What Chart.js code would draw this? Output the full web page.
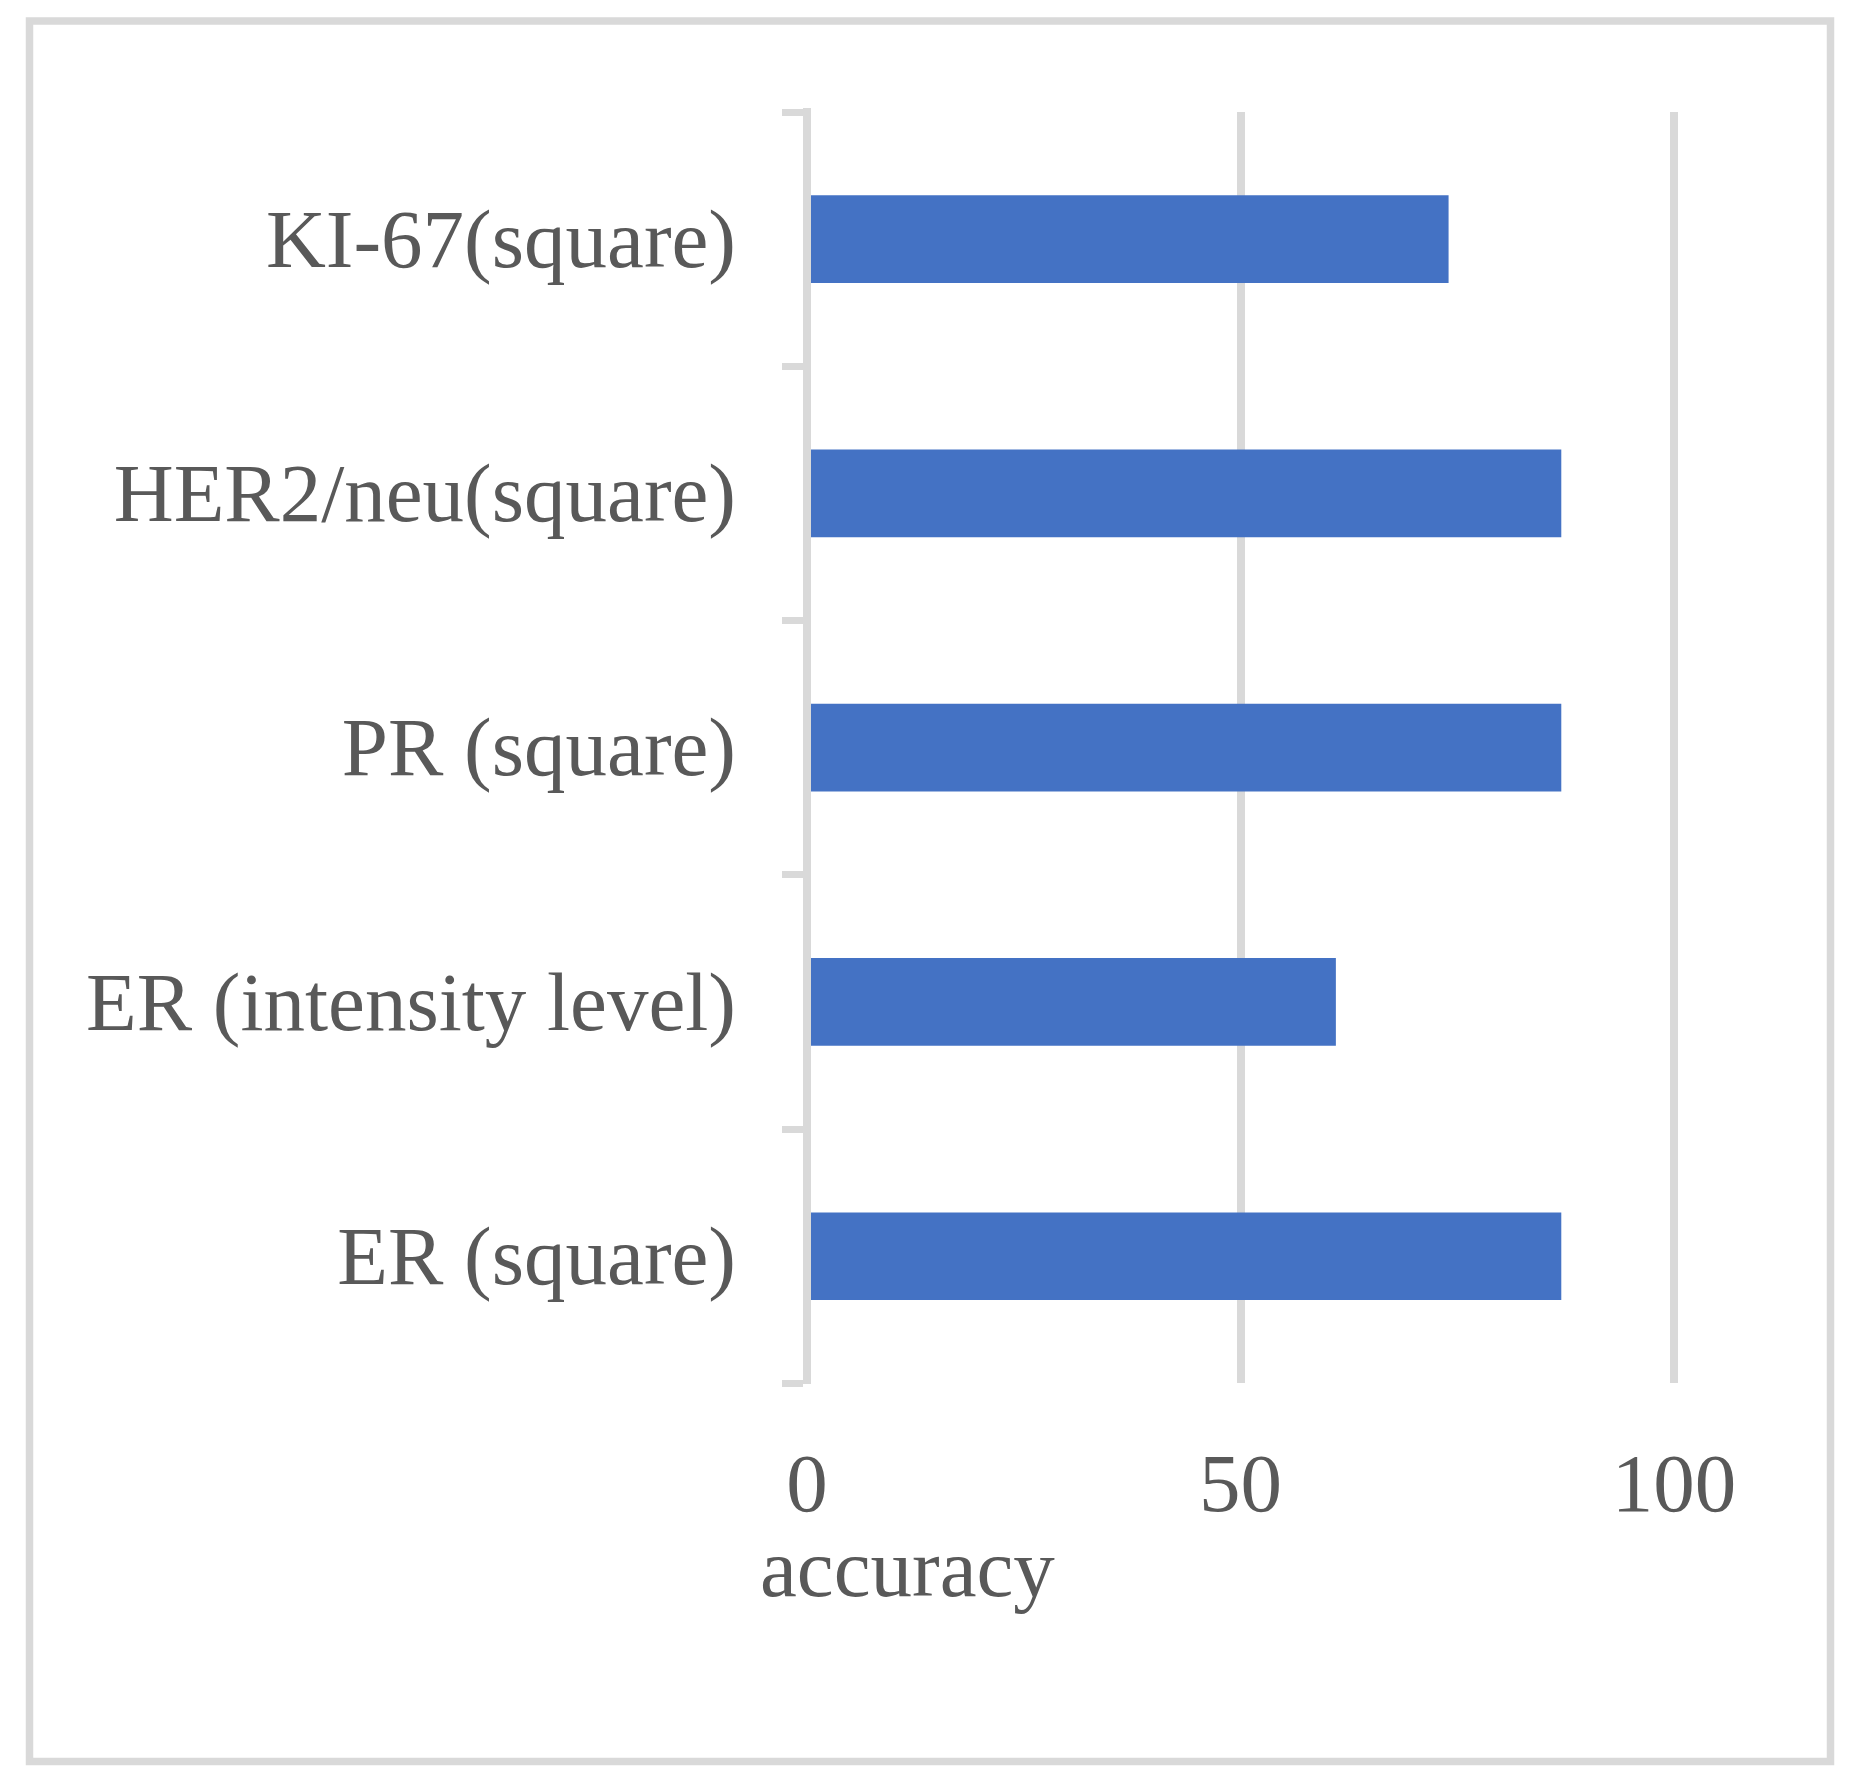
<!DOCTYPE html>
<html>
<head>
<meta charset="utf-8">
<script src="https://cdn.jsdelivr.net/npm/chart.js@4/dist/chart.umd.min.js"></script>
<style>
  html, body { margin: 0; padding: 0; background: #ffffff; }
  #wrap { width: 1862px; height: 1792px; position: relative; }
</style>
</head>
<body>
<div id="wrap"><canvas id="c"></canvas></div>
<script>
const categories = ["KI-67(square)", "HER2/neu(square)", "PR (square)", "ER (intensity level)", "ER (square)"];
const accuracyValues = [74, 87, 87, 61, 87];
const xTicks = [0, 50, 100];
const axisTitle = "accuracy";

const FONT = "'Liberation Serif', 'Times New Roman', serif";
const TEXT = "#595959";
const GRID = "#d9d9d9";
const FSIZE = 83;

const frame = {
  id: 'frame',
  beforeDraw(chart) {
    const ctx = chart.ctx;
    ctx.save();
    ctx.fillStyle = '#ffffff';
    ctx.fillRect(0, 0, chart.width, chart.height);
    ctx.strokeStyle = GRID;
    ctx.lineWidth = 7.5;
    ctx.strokeRect(29.5, 21, 1801, 1740.5);
    ctx.restore();
  },
  afterDraw(chart) {
    const ctx = chart.ctx;
    const xs = chart.scales.x;
    ctx.save();
    ctx.font = FSIZE + "px " + FONT;
    ctx.fillStyle = TEXT;
    ctx.textBaseline = 'alphabetic';
    ctx.textAlign = 'left';
    ctx.fillText(axisTitle, xs.left - 47, chart.chartArea.bottom + 213);
    ctx.restore();
  }
};

new Chart(document.getElementById('c'), {
  type: 'bar',
  data: {
    labels: categories,
    datasets: [{
      label: axisTitle,
      data: accuracyValues,
      backgroundColor: '#4472C4',
      borderWidth: 0,
      categoryPercentage: 1.0,
      barPercentage: 0.345
    }]
  },
  options: {
    indexAxis: 'y',
    responsive: true,
    maintainAspectRatio: false,
    animation: false,
    layout: { padding: { left: 85, right: 188, top: 112, bottom: 197 } },
    plugins: { legend: { display: false }, tooltip: { enabled: false } },
    scales: {
      x: {
        min: 0, max: 100,
        afterBuildTicks(scale) { scale.ticks = xTicks.map(v => ({ value: v })); },
        grid: { color: GRID, lineWidth: 8, drawTicks: false },
        border: { display: false },
        ticks: { font: { family: FONT, size: FSIZE }, color: TEXT, padding: 56, maxRotation: 0 }
      },
      y: {
        afterFit(scale) { scale.width = 722; },
        grid: { drawOnChartArea: false, drawTicks: true, tickLength: 25, tickWidth: 7, tickColor: GRID, offset: true },
        border: { display: true, color: GRID, width: 8, z: 1 },
        ticks: { font: { family: FONT, size: FSIZE }, color: TEXT, padding: 46, labelOffset: 6 }
      }
    }
  },
  plugins: [frame]
});
</script>
</body>
</html>
